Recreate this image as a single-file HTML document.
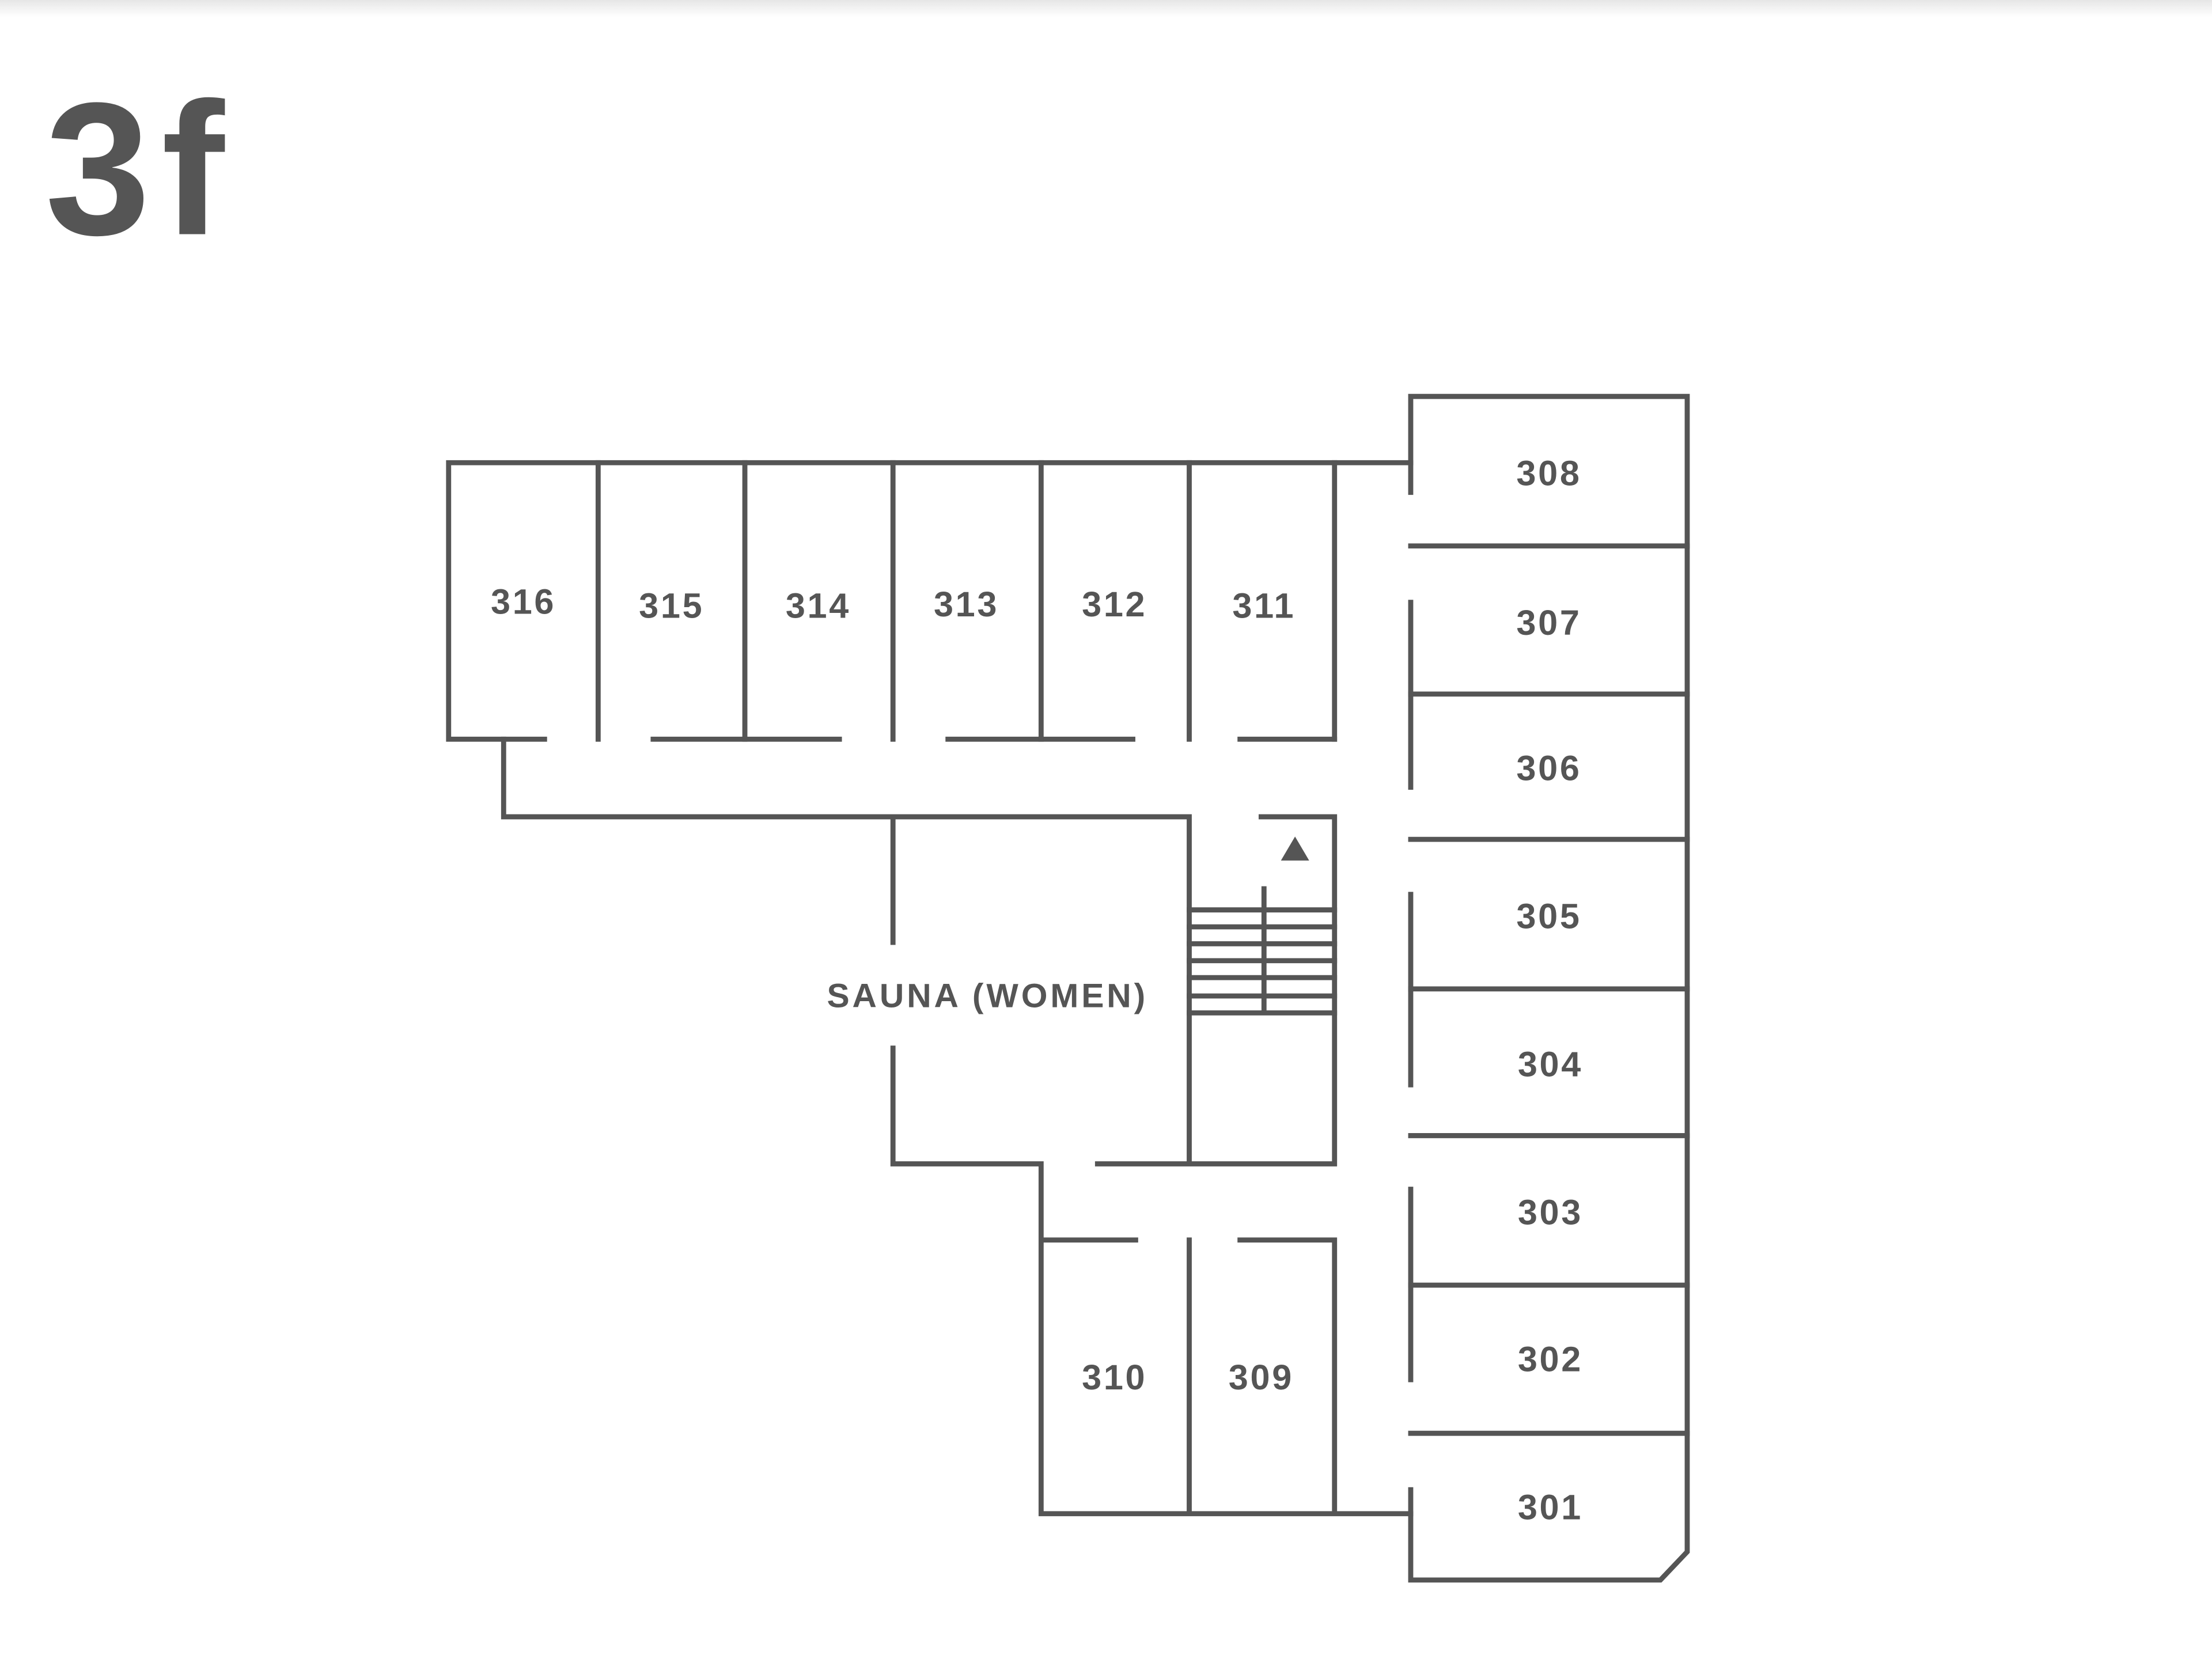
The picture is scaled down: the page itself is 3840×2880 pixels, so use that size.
<!DOCTYPE html>
<html><head><style>html,body{margin:0;padding:0;background:#fff}svg{display:block}</style></head>
<body>
<svg xmlns="http://www.w3.org/2000/svg" width="3840" height="2880" viewBox="0 0 1568 1176">
<defs><linearGradient id="g" x1="0" y1="0" x2="0" y2="1"><stop offset="0" stop-color="#e6e6e6"/><stop offset="1" stop-color="#fff"/></linearGradient></defs>
<rect width="1568" height="1176" fill="#fff"/>
<rect width="1568" height="12" fill="url(#g)"/>
<text x="32" y="166" font-family="Liberation Sans, sans-serif" font-weight="bold" font-size="134" fill="#555" letter-spacing="8">3f</text>
<g stroke="#555" stroke-width="3.6" fill="none" stroke-linecap="square">
<path d="M1000 328H318V524H386M463 524H595M672 524H803M879 524H946"/>
<path d="M424 328V524M528 328V524M633 328V524M738 328V524M843 328V524M946 328V524"/>
<path d="M357 524V579H843V825M894 579H946V825M778 825H946"/>
<path d="M633 579V668M633 743V825H738V1073H1000M738 879H805M879 879H946V1073M843 879V1073"/>
<path d="M843 645H946M843 657H946M843 669H946M843 681H946M843 693H946M843 706H946M843 718H946M896 630V718"/>
<path d="M1000 349V281H1196V1100L1177 1120H1000V1056M1000 427V558M1000 634V769M1000 843V978"/>
<path d="M1000 387H1196M1000 492H1196M1000 595H1196M1000 701H1196M1000 805H1196M1000 911H1196M1000 1016H1196"/>
</g>
<polygon points="918,593 928,610 908,610" fill="#555"/>
<g font-family="Liberation Sans, sans-serif" font-weight="bold" font-size="25" fill="#555" text-anchor="middle" letter-spacing="1.5">
<text x="371" y="435">316</text><text x="476" y="438">315</text><text x="580" y="438">314</text>
<text x="685" y="437">313</text><text x="790" y="437">312</text><text x="896" y="438">311</text>
<text x="1098" y="344">308</text><text x="1098" y="450">307</text><text x="1098" y="553">306</text>
<text x="1098" y="658">305</text><text x="1099" y="763">304</text><text x="1099" y="868">303</text>
<text x="1099" y="972">302</text><text x="1099" y="1077">301</text>
<text x="790" y="985">310</text><text x="894" y="985">309</text>
<text x="700" y="714" letter-spacing="2" font-size="24">SAUNA (WOMEN)</text>
</g>
</svg>
</body></html>
